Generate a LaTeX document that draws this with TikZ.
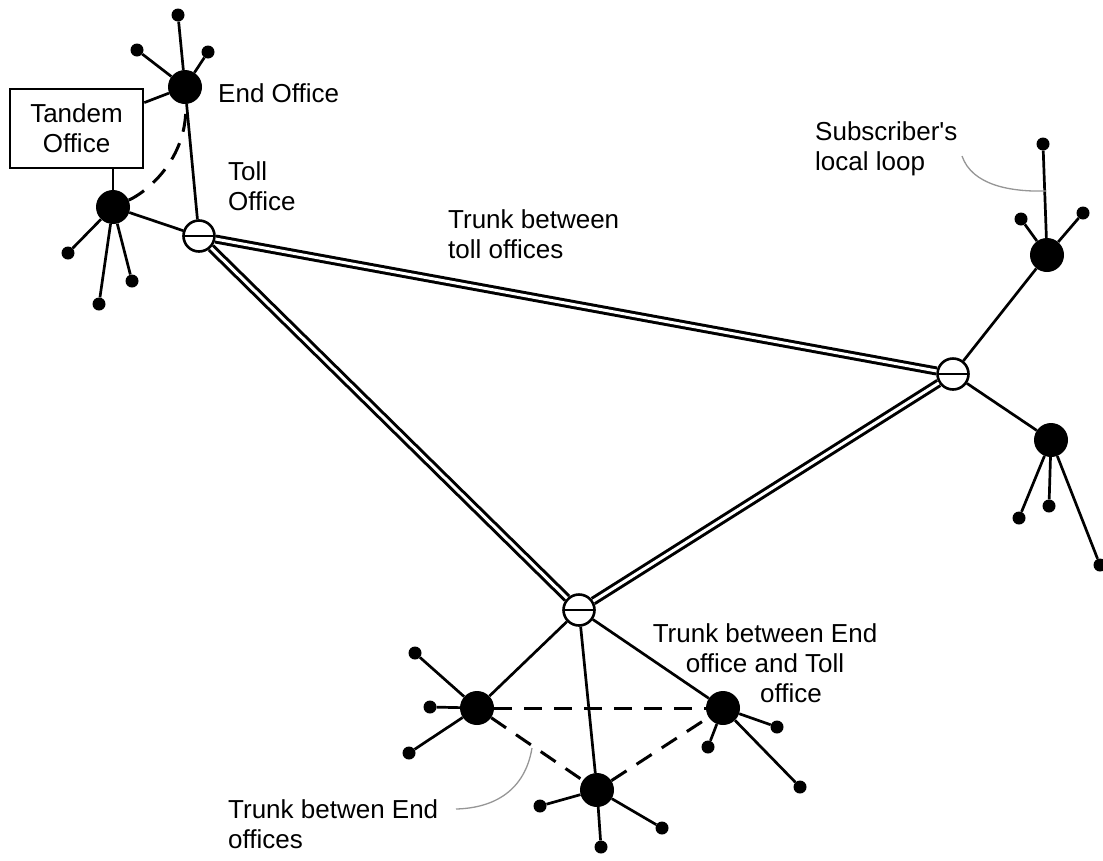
\documentclass[tikz,border=0pt]{standalone}
\usepackage{fontspec}
\setmainfont{Liberation Sans}
\definecolor{calloutgray}{RGB}{150,150,150}

\begin{document}
\begin{tikzpicture}[x=1pt, y=-1pt, font=\fontsize{26}{30}\selectfont,
    endoffice/.style={circle, fill=black, minimum size=34pt, inner sep=0pt},
    tolloffice/.style={circle, draw, line width=2.6pt, fill=white, minimum size=31pt, inner sep=0pt,
        path picture={\draw[line width=2.4pt] (path picture bounding box.west) -- (path picture bounding box.east);}},
    subscriber/.style={circle, fill=black, minimum size=13pt, inner sep=0pt},
    loopline/.style={line width=2.7pt},
    tolltrunk/.style={line width=3pt, double=white, double distance=3pt},
    endtrunk/.style={line width=3pt, dash pattern=on 18pt off 12pt},
    callout/.style={calloutgray, line width=1.3pt},
    txt/.style={inner sep=0pt}]
    \useasboundingbox (0,0) rectangle (1103,860);

    % Toll offices
    \node[tolloffice] (t1) at (199,236) {};
    \node[tolloffice] (t2) at (953,374) {};
    \node[tolloffice] (t3) at (579,610) {};

    % End offices
    \node[endoffice] (e1) at (185,87) {};
    \node[endoffice] (e2) at (113,207) {};
    \node[endoffice] (e3) at (1047,255) {};
    \node[endoffice] (e4) at (1051,440) {};
    \node[endoffice] (e5) at (477,708) {};
    \node[endoffice] (e6) at (723,708) {};
    \node[endoffice] (e7) at (597,790) {};

    % Tandem office
    \node[draw, line width=2.6pt, minimum width=133pt, minimum height=79pt, align=center, inner sep=0pt]
        (tandem) at (76.5,128.5) {Tandem\\Office};

    % Subscribers and local loops
    \foreach \office/\subs in {
        e1/{{178,15},{137,50},{208,52}},
        e2/{{68,253},{99,304},{132,281}},
        e3/{{1043,144},{1021,219},{1083,213}},
        e4/{{1019,518},{1049,506},{1100,565}},
        e5/{{415,653},{430,707},{409,753}},
        e6/{{777,727},{708,747},{800,787}},
        e7/{{540,806},{662,828},{601,847}}} {
        \foreach \pos [count=\i] in \subs {
            \node[subscriber] (\office-\i) at (\pos) {};
            \draw[loopline] (\office) -- (\office-\i);
        }
    }

    % Trunks between toll offices
    \draw[tolltrunk] (t1) -- (t2);
    \draw[tolltrunk] (t1) -- (t3);
    \draw[tolltrunk] (t2) -- (t3);

    % End office to toll office
    \draw[loopline] (e1) -- (t1);
    \draw[loopline] (e2) -- (t1);
    \draw[loopline] (e3) -- (t2);
    \draw[loopline] (e4) -- (t2);
    \draw[loopline] (e5) -- (t3);
    \draw[loopline] (e6) -- (t3);
    \draw[loopline] (e7) -- (t3);

    % Tandem office links
    \draw[loopline] (tandem) -- (e1);
    \draw[loopline] (e2 |- tandem.south) -- (e2);

    % Trunks between end offices
    \draw[endtrunk] (e2) .. controls (145,193) and (188,160) .. (e1);
    \draw[endtrunk] (e5) -- (e6);
    \draw[endtrunk] (e5) -- (e7);
    \draw[endtrunk] (e7) -- (e6);

    % Labels
    \node[txt, anchor=north west] (endlbl) at (218,83) {End Office};
    \node[txt, anchor=north west, align=left] (tolllbl) at (228,161) {Toll\\Office};
    \node[txt, anchor=north west, align=left] (tolltrunklbl) at (448,209) {Trunk between\\toll offices};
    \node[txt, anchor=north west, align=left] (subslbl) at (815,121) {Subscriber\textquotesingle s\\local loop};
    \node[txt, anchor=north, align=center] (endtolllbl) at (765,623)
        {Trunk between End\\office and Toll\\\hspace*{52pt}office};
    \node[txt, anchor=north west, align=left] (endtrunklbl) at (228,799) {Trunk betwen End\\offices};

    % Callouts
    \coordinate (subtip) at (962,156);
    \coordinate (loopmark) at (1046,191);
    \draw[callout] (subtip) .. controls (972,185) and (1010,192) .. (loopmark);
    \coordinate (dashmark) at (532,748);
    \coordinate (trunktip) at (456,809);
    \draw[callout] (dashmark) .. controls (525,790) and (495,808) .. (trunktip);
\end{tikzpicture}
\end{document}
